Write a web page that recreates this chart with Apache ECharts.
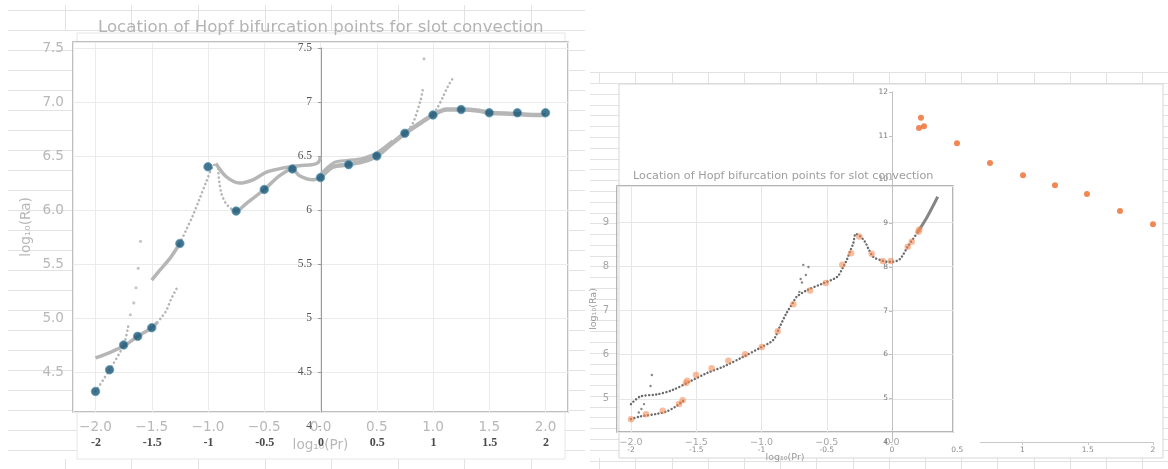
<!DOCTYPE html>
<html><head><meta charset="utf-8">
<script src="https://cdn.jsdelivr.net/npm/echarts@6/dist/echarts.min.js"></script>
<style>html,body{margin:0;padding:0;background:#fff}#c{width:1168px;height:469px}</style>
</head><body><div id="c"></div>
<script>
// ================= DATA =================
const titleText = 'Location of Hopf bifurcation points for slot convection';
const xName = 'log\u2081\u2080(Pr)';
const yName = 'log\u2081\u2080(Ra)';

// ---- left panel: Hopf points (blue) ----
const hopfPr = [-2, -1.875, -1.75, -1.625, -1.5, -1.25, -1, -0.75, -0.5, -0.25, 0, 0.25, 0.5, 0.75, 1, 1.25, 1.5, 1.75, 2];
const hopfRa = [4.32, 4.52, 4.75, 4.83, 4.91, 5.69, 6.40, 5.99, 6.19, 6.38, 6.30, 6.42, 6.50, 6.71, 6.88, 6.93, 6.90, 6.90, 6.90];

// ---- left panel: grey continuation curves ----
const lowBranch = [[-2,4.63],[-1.875,4.68],[-1.75,4.74],[-1.625,4.83],[-1.5,4.91],[-1.45,4.96]];
const lowBranchTail = [[-1.45,4.96],[-1.41,5.01],[-1.37,5.07],[-1.33,5.17],[-1.28,5.27]];
const steepBranch = [[-2,4.32],[-1.875,4.52],[-1.75,4.75],[-1.71,4.92]];
const steepDots = [[-1.69,5.03],[-1.66,5.14],[-1.64,5.28],[-1.62,5.46],[-1.60,5.71]];
const upBranch = [[-1.5,5.35],[-1.43,5.44],[-1.34,5.55],[-1.25,5.69]];
const upBranchDots = [[-1.25,5.69],[-1.196,5.81],[-1.138,5.94],[-1.08,6.09],[-1.02,6.25],[-0.96,6.40],[-0.93,6.43]];
const upperArc = [[-0.93,6.43],[-0.84,6.31],[-0.72,6.25],[-0.60,6.28],[-0.48,6.35],[-0.33,6.39],[-0.19,6.41],[-0.07,6.42],[-0.02,6.44],[0,6.49]];
const lowerArcDots = [[-0.91,6.38],[-0.90,6.26],[-0.88,6.15],[-0.84,6.06],[-0.78,6.00]];
const lowerArc = [[-0.78,6.00],[-0.75,5.99],[-0.66,6.06],[-0.5,6.19],[-0.36,6.32],[-0.25,6.38],[-0.19,6.32],[-0.07,6.28],[0,6.30]];
const plateau = [[0,6.30],[0.11,6.40],[0.24,6.42],[0.38,6.45],[0.5,6.50],[0.64,6.62],[0.75,6.71],[0.88,6.80],[1.0,6.88],[1.12,6.93],[1.25,6.93],[1.41,6.92],[1.5,6.90],[1.71,6.89],[1.89,6.88],[2.0,6.88]];
const plateauUpper = [[0,6.33],[0.12,6.44],[0.25,6.46],[0.38,6.48],[0.5,6.53],[0.64,6.64]];
const spurA = [[0.75,6.71],[0.82,6.80],[0.89,7.02],[0.91,7.12]];
const spurB = [[1.0,6.90],[1.03,6.93],[1.09,7.05],[1.13,7.14],[1.17,7.21]];
const spurPoint = [[0.92,7.40]];

// ---- right panel, inset chart ----
const innerLow = [[-2.0,4.54],[-1.93,4.60],[-1.80,4.66],[-1.73,4.71],[-1.66,4.82],[-1.61,4.93],[-1.585,4.99]];
const innerMain = [[-2.0,4.88],[-1.93,5.05],[-1.80,5.10],[-1.68,5.20],[-1.55,5.39],[-1.42,5.58],[-1.29,5.73],[-1.14,5.95],[-1.0,6.17],[-0.91,6.33],[-0.86,6.63],[-0.81,6.93],[-0.76,7.17],[-0.73,7.31],[-0.65,7.46],[-0.53,7.61],[-0.42,7.76],[-0.373,7.99],[-0.347,8.14],[-0.322,8.33],[-0.297,8.52],[-0.278,8.73],[-0.245,8.68],[-0.207,8.55],[-0.182,8.40],[-0.143,8.21],[-0.092,8.14],[-0.04,8.10],[0.0,8.10],[0.06,8.16],[0.12,8.44],[0.19,8.74]];
const innerTop = [[0.19,8.74],[0.27,9.12],[0.35,9.57]];
const innerStray = [[-1.84,5.54],[-1.85,5.29],[-1.90,4.88],[-1.92,4.77],[-1.94,4.69],[-0.71,7.42],[-0.69,7.63],[-0.70,7.71],[-0.66,7.80],[-0.64,7.98],[-0.68,8.03]];
const innerHopf = [[-2.0,4.54],[-1.885,4.65],[-1.757,4.73],[-1.632,4.88],[-1.604,4.97],[-1.579,5.36],[-1.569,5.41],[-1.502,5.54],[-1.382,5.69],[-1.254,5.86],[-1.126,6.01],[-0.998,6.17],[-0.876,6.53],[-0.756,7.14],[-0.628,7.45],[-0.508,7.62],[-0.381,8.03],[-0.314,8.29],[-0.251,8.67],[-0.156,8.28],[-0.071,8.12],[-0.01,8.12],[0.12,8.44],[0.151,8.55],[0.202,8.78],[0.209,8.83]];

// ---- right panel, outer chart ----
const outerPr = [0.207, 0.222, 0.245, 0.498, 0.751, 1.004, 1.249, 1.494, 1.747, 2.0];
const outerRa = [11.18, 11.41, 11.22, 10.83, 10.38, 10.10, 9.87, 9.67, 9.28, 8.98];

// ================= CHART =================
const FONT = 'DejaVu Sans';
const isStep = (v, s) => Math.abs(v / s - Math.round(v / s)) < 1e-6;
const fmtHalf = v => isStep(v, 0.5) ? ((v < -1e-9 ? '\u2212' : '') + Math.abs(v).toFixed(1)) : '';
const fmtInt = v => isStep(v, 1) ? String(Math.round(v)) : '';

const hidden = (gi, min, max) => ({ type: 'value', gridIndex: gi, show: false, min: min || 0, max: max || 1 });
const lineAxis = (gi, max, color, z) => ({
  type: 'value', gridIndex: gi, min: 0, max: max, interval: 1, z: z,
  axisLine: { show: false }, axisTick: { show: false }, axisLabel: { show: false },
  splitLine: { show: true, lineStyle: { color: color, width: 1 } }
});
const SHEET = '#e2e2e2';

const grids = [
  { left: 8, top: 10, width: 577, height: 460 },               // 0 left sheet rows
  { left: 65, top: 5, width: 466.2, height: 25 },              // 1 left sheet cols top
  { left: 65, top: 459, width: 466.2, height: 10 },            // 2 left sheet cols bottom
  { left: 590, top: 72.5, width: 578, height: 388.4 },         // 3 right sheet rows
  { left: 599.5, top: 72.5, width: 543, height: 11 },          // 4 right sheet cols top
  { left: 599.5, top: 458, width: 543, height: 11 },           // 5 right sheet cols bottom
  { left: 77, top: 33, width: 488, height: 426, show: true, backgroundColor: '#fff', borderColor: '#e6e6e6', borderWidth: 1, z: 1 }, // 6
  { left: 73, top: 42, width: 495, height: 370, show: true, backgroundColor: '#fff', borderColor: '#aaaaaa', borderWidth: 1.5, z: 2 }, // 7 left frame
  { left: 96, top: 48, width: 450, height: 378 },              // 8 left inner x labels
  { left: 619, top: 84, width: 544, height: 374, show: true, backgroundColor: '#fff', borderColor: '#d6d6d6', borderWidth: 1, z: 1 }, // 9 right frame
  { left: 631, top: 92, width: 522, height: 350 },             // 10 right outer x axis
  { left: 621, top: 160, width: 359, height: 290, show: true, backgroundColor: '#fff', borderColor: '#fff', borderWidth: 0, z: 2 }, // 11 cover
  { left: 617, top: 186, width: 336, height: 246, show: true, backgroundColor: 'transparent', borderColor: '#9d9d9d', borderWidth: 1.5, z: 2.2 }, // 12 inset frame
  { left: 321, top: 48, width: 225, height: 364 },             // 13 left inner y line (Pr = 0)
  { left: 892, top: 92, width: 261, height: 350 },             // 14 right outer y line + points
  { left: 321, top: 48, width: 225, height: 432 },             // 15 left inner y labels (3.5..7.5)
  { left: 892, top: 92, width: 261, height: 393.75 }           // 16 right outer y labels (3..12)
].map(g => Object.assign({ outerBoundsMode: 'none', containLabel: false }, g));

const xAxes = [
  hidden(0),
  lineAxis(1, 7, SHEET, 0),
  lineAxis(2, 7, SHEET, 0),
  hidden(3),
  lineAxis(4, 15, SHEET, 0),
  lineAxis(5, 15, SHEET, 0),
  hidden(6),
  { // 7 left frame x
    type: 'value', gridIndex: 7, min: -2.2, max: 2.2, splitNumber: 8, z: 2.5,
    axisLine: { show: false }, axisTick: { show: false },
    axisLabel: { color: '#b8b8b8', fontSize: 13.6, fontFamily: FONT, margin: 8, formatter: fmtHalf },
    splitLine: { show: true, lineStyle: { color: '#ebebeb' } },
    name: xName, nameLocation: 'middle', nameGap: 26,
    nameTextStyle: { color: '#b8b8b8', fontSize: 13.6, fontFamily: FONT }
  },
  { // 8 left inner x
    type: 'value', gridIndex: 8, min: -2, max: 2, interval: 0.5, z: 3,
    axisLine: { show: false, onZero: false }, axisTick: { show: false }, splitLine: { show: false },
    axisLabel: { color: '#4a4a4a', fontSize: 12, fontFamily: 'Liberation Serif', fontWeight: 'bold', margin: 11 }
  },
  hidden(9),
  { // 10 right outer x: line only
    type: 'value', gridIndex: 10, position: 'bottom', min: -2, max: 2, interval: 0.5, z: 1.5,
    axisLine: { show: true, onZero: false, lineStyle: { color: '#c8c8c8' } },
    axisTick: { show: true, length: 3, lineStyle: { color: '#c8c8c8' } },
    axisLabel: { show: false }, splitLine: { show: false }
  },
  { // 11 right outer x: labels only
    type: 'value', gridIndex: 10, position: 'bottom', min: -2, max: 2, interval: 0.5, z: 3,
    axisLine: { show: false, onZero: false }, axisTick: { show: false }, splitLine: { show: false },
    axisLabel: { color: '#8a8a8a', fontSize: 7.5, fontFamily: FONT, margin: 4 }
  },
  hidden(11),
  { // 13 inset x
    type: 'value', gridIndex: 12, min: -2.107, max: 0.467, splitNumber: 5, z: 2.5,
    axisLine: { show: false, onZero: false }, axisTick: { show: false },
    axisLabel: { color: '#a5a5a5', fontSize: 9.5, fontFamily: FONT, margin: 6, formatter: fmtHalf },
    splitLine: { show: true, lineStyle: { color: '#e6e6e6' } },
    name: xName, nameLocation: 'middle', nameGap: 17,
    nameTextStyle: { color: '#9a9a9a', fontSize: 9.5, fontFamily: FONT }
  },
  hidden(13),
  hidden(14, 0, 2),   // 15 right outer x for the orange points (Pr 0..2)
  hidden(15),
  hidden(16)
];

const yAxes = [
  lineAxis(0, 23, SHEET, 0),
  hidden(1),
  hidden(2),
  lineAxis(3, 36, SHEET, 0),
  hidden(4),
  hidden(5),
  hidden(6),
  { // 7 left frame y
    type: 'value', gridIndex: 7, min: 4.1296, max: 7.5556, splitNumber: 7, z: 2.5,
    axisLine: { show: false, onZero: false }, axisTick: { show: false },
    axisLabel: { color: '#b8b8b8', fontSize: 13.6, fontFamily: FONT, margin: 9, formatter: fmtHalf },
    splitLine: { show: true, lineStyle: { color: '#ebebeb' } },
    name: yName, nameLocation: 'middle', nameGap: 40,
    nameTextStyle: { color: '#b8b8b8', fontSize: 13.6, fontFamily: FONT }
  },
  { // 8 left inner y line at Pr = 0
    type: 'value', gridIndex: 13, position: 'left', min: 4.1296, max: 7.5, z: 3,
    axisLine: { show: true, onZero: false, lineStyle: { color: '#9a9a9a' } },
    axisTick: { show: false }, axisLabel: { show: false }, splitLine: { show: false }
  },
  hidden(9),
  { // 10 right outer y line at Pr = 0
    type: 'value', gridIndex: 14, position: 'left', min: 4, max: 12, z: 3,
    axisLine: { show: true, onZero: false, lineStyle: { color: '#c0c0c0' } },
    axisTick: { show: false }, axisLabel: { show: false }, splitLine: { show: false }
  },
  hidden(11),
  { // 12 inset y
    type: 'value', gridIndex: 12, min: 4.249, max: 9.814, splitNumber: 6, z: 2.5,
    axisLine: { show: false, onZero: false }, axisTick: { show: false },
    axisLabel: { color: '#a5a5a5', fontSize: 10, fontFamily: FONT, margin: 8, formatter: fmtInt },
    splitLine: { show: true, lineStyle: { color: '#e6e6e6' } },
    name: yName, nameLocation: 'middle', nameGap: 17,
    nameTextStyle: { color: '#9a9a9a', fontSize: 9.5, fontFamily: FONT }
  },
  hidden(8),
  hidden(10),
  { // 15 left inner y labels
    type: 'value', gridIndex: 15, position: 'left', min: 3.5, max: 7.5, interval: 0.5, z: 3,
    axisLine: { show: false, onZero: false },
    axisTick: { show: true, length: 3, lineStyle: { color: '#9a9a9a' } },
    axisLabel: { color: '#555', fontSize: 11.5, fontFamily: 'Liberation Serif', margin: 9 },
    splitLine: { show: false }
  },
  { // 16 right outer y labels
    type: 'value', gridIndex: 16, position: 'left', min: 3, max: 12, interval: 1, z: 3,
    axisLine: { show: false, onZero: false },
    axisTick: { show: true, length: 3, lineStyle: { color: '#c0c0c0' } },
    axisLabel: { color: '#777', fontSize: 7.5, fontFamily: FONT, margin: 4 },
    splitLine: { show: false }
  }
];

const LG = '#b6b6b6';
const L = { xAxisIndex: 7, yAxisIndex: 7 };
const R = { xAxisIndex: 13, yAxisIndex: 12 };
const solid = (ax, data, color, width) => Object.assign({
  type: 'line', data: data, smooth: 0.3, symbol: 'none', silent: true, z: 5,
  lineStyle: { color: color, width: width }
}, ax);
const dotted = (ax, data, color, width, gap) => Object.assign({
  type: 'line', data: data, smooth: 0.3, symbol: 'none', silent: true, z: 5,
  lineStyle: { color: color, width: width, type: [0.1, gap], cap: 'round' }
}, ax);
const dots = (ax, data, color, size) => Object.assign({
  type: 'scatter', data: data, symbolSize: size, silent: true, z: 5,
  itemStyle: { color: color }
}, ax);

const series = [
  // left panel grey curves
  solid(L, lowBranch, LG, 3.5),
  dotted(L, lowBranchTail, LG, 2.6, 4.2),
  dotted(L, steepBranch, LG, 2.6, 4.2),
  dots(L, steepDots, LG, 3.2),
  solid(L, upBranch, LG, 3.5),
  dotted(L, upBranchDots, LG, 2.6, 4.2),
  solid(L, upperArc, LG, 3.5),
  dotted(L, lowerArcDots, LG, 2.6, 4.2),
  solid(L, lowerArc, LG, 3.5),
  solid(L, plateau, LG, 4.5),
  solid(L, plateauUpper, LG, 3),
  dotted(L, spurA, LG, 2.6, 4.2),
  dotted(L, spurB, LG, 2.6, 4.2),
  dots(L, spurPoint, LG, 3.2),
  Object.assign({
    type: 'scatter', data: hopfPr.map((x, i) => [x, hopfRa[i]]), symbolSize: 8.5, silent: true, z: 6,
    itemStyle: { color: '#155474', borderColor: '#5d9cbc', borderWidth: 1 }
  }, L),
  // right inset
  dotted(R, innerLow, '#6a6a6a', 2.4, 3.4),
  dotted(R, innerMain, '#6a6a6a', 2.4, 3.4),
  solid(R, innerTop, '#858585', 3),
  dots(R, innerStray, '#6a6a6a', 2.4),
  Object.assign({
    type: 'scatter', data: innerHopf, symbolSize: 6.5, silent: true, z: 6,
    itemStyle: { color: 'rgba(243,137,84,0.72)' }
  }, R),
  // right outer
  {
    type: 'scatter', xAxisIndex: 15, yAxisIndex: 10, data: outerPr.map((x, i) => [x, outerRa[i]]),
    symbolSize: 6, silent: true, z: 6, itemStyle: { color: '#ec6a2c' }
  }
];

const chart = echarts.init(document.getElementById('c'), null, { renderer: 'canvas' });
chart.setOption({
  animation: false,
  backgroundColor: '#fff',
  textStyle: { fontFamily: FONT },
  title: [
    { text: titleText, left: 98, top: 19, padding: 0, z: 8,
      textStyle: { fontFamily: FONT, fontSize: 16.6, fontWeight: 'normal', color: '#b4b4b4' } },
    { text: titleText, left: 633, top: 171, padding: 0, z: 8,
      textStyle: { fontFamily: FONT, fontSize: 11.2, fontWeight: 'normal', color: '#9e9e9e' } }
  ],
  grid: grids,
  xAxis: xAxes,
  yAxis: yAxes,
  series: series
});
</script></body></html>
